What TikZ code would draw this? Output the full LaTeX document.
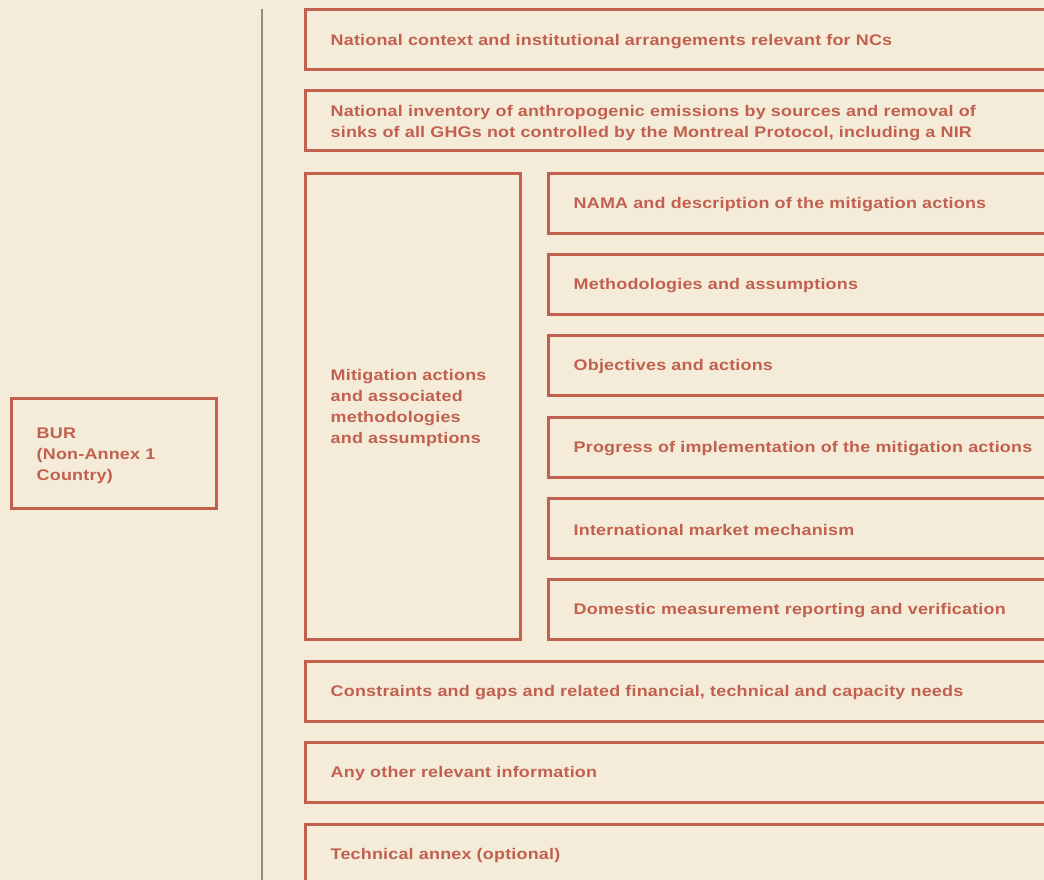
\documentclass[tikz,border=0pt]{standalone}
\usepackage{fontspec}
\newfontfamily\labfont{Liberation Sans}[FakeStretch=1.165,LetterSpace=1.3]
\definecolor{paper}{HTML}{F4ECD8}
\definecolor{rust}{HTML}{C2604F}
\definecolor{rule}{HTML}{8C8C8C}
% frame with its left-aligned caption: name, top-left corner, width, height, text
\newcommand\sectbox[6]{%
  \node[frame, minimum width=#4, minimum height=#5] (#1) at (#2,#3) {};
  \node[caption] (#1-t) at ([xshift=26.5pt, yshift=-2pt]#1.west) {#6};}
\begin{document}
\begin{tikzpicture}[x=1pt,y=-1pt,
  frame/.style={draw=rust, line width=3pt, anchor=north west, inner sep=0pt},
  caption/.style={anchor=west, inner sep=0pt, align=left, text=rust,
    font=\labfont\bfseries\fontsize{15.4}{21}\selectfont}]
\fill[paper] (0,0) rectangle (1044,880);
\useasboundingbox (0,0) rectangle (1044,880);
\clip (0,0) rectangle (1044,880);

% separator rule
\coordinate (rtop) at (262,9);
\coordinate (rbot) at (262,880);
\draw[rule, line width=1.3pt] (rtop) -- (rbot);

% report type
\sectbox{bur}{10}{397}{205pt}{110pt}{BUR\\(Non-Annex 1\\Country)}

% main sections
\sectbox{ctx}{304}{8.5}{800pt}{60pt}{National context and institutional arrangements relevant for NCs}
\sectbox{inv}{304}{89.5}{800pt}{60pt}{National inventory of anthropogenic emissions by sources and removal of\\sinks of all GHGs not controlled by the Montreal Protocol, including a NIR}
\sectbox{mit}{304}{171.5}{215pt}{466pt}{Mitigation actions\\and associated\\methodologies\\and assumptions}
\sectbox{gap}{304}{659.5}{800pt}{60pt}{Constraints and gaps and related financial, technical and capacity needs}
\sectbox{oth}{304}{740.5}{800pt}{60pt}{Any other relevant information}
\sectbox{ann}{304}{822.5}{800pt}{60pt}{Technical annex (optional)}

% mitigation subsections
\sectbox{s1}{547}{171.5}{560pt}{60pt}{NAMA and description of the mitigation actions}
\sectbox{s2}{547}{252.5}{560pt}{60pt}{Methodologies and assumptions}
\sectbox{s3}{547}{333.5}{560pt}{60pt}{Objectives and actions}
\sectbox{s4}{547}{415.5}{560pt}{60pt}{Progress of implementation of the mitigation actions}
\sectbox{s5}{547}{496.5}{560pt}{60pt}{International market mechanism}
\sectbox{s6}{547}{577.5}{560pt}{60pt}{Domestic measurement reporting and verification}
\end{tikzpicture}
\end{document}
